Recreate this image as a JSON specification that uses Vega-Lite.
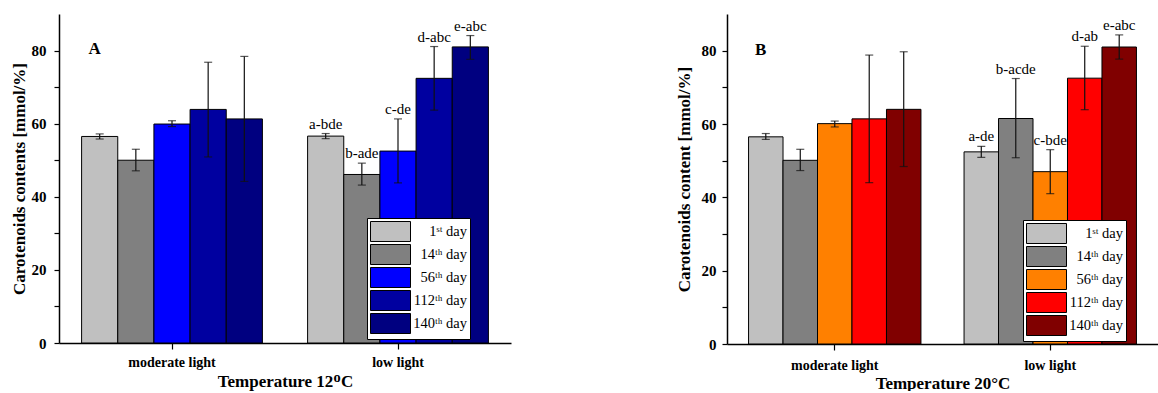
{
  "$schema": "https://vega.github.io/schema/vega-lite/v6.json",
  "padding": {"left": 10, "top": 14, "right": 0, "bottom": 0},
  "background": "white",
  "spacing": 216,
  "bounds": "flush",
  "config": {
    "font": "Liberation Serif",
    "view": {"stroke": null},
    "axis": {
      "domainColor": "#000000", "tickColor": "#000000", "labelColor": "#000000", "titleColor": "#000000",
      "grid": false, "labelFont": "Liberation Serif", "titleFont": "Liberation Serif",
      "labelFontWeight": "bold", "titleFontWeight": "bold", "domainWidth": 1.5, "tickWidth": 1.2
    },
    "legend": {
      "orient": "none", "title": null,
      "symbolType": "M-1,-1H3V1H-1Z", "symbolSize": 400,
      "symbolStrokeColor": "#000000", "symbolStrokeWidth": 1, "symbolOpacity": 1,
      "labelFont": "Liberation Serif", "labelFontSize": 14.5, "labelColor": "#000000",
      "labelAlign": "right", "labelOffset": 76,
      "strokeColor": "#000000", "fillColor": "white", "padding": 3, "rowPadding": -5
    },
    "text": {"font": "Liberation Serif", "color": "#000000"}
  },
  "datasets": {
    "a": [
      {"light": "moderate light", "day": "1st day", "value": 56.5, "lo": 55.8, "hi": 57.2, "letter": ""},
      {"light": "moderate light", "day": "14th day", "value": 50.0, "lo": 47.1, "hi": 53.0, "letter": ""},
      {"light": "moderate light", "day": "56th day", "value": 59.9, "lo": 59.2, "hi": 60.8, "letter": ""},
      {"light": "moderate light", "day": "112th day", "value": 63.9, "lo": 50.9, "hi": 76.8, "letter": ""},
      {"light": "moderate light", "day": "140th day", "value": 61.3, "lo": 44.2, "hi": 78.4, "letter": ""},
      {"light": "low light", "day": "1st day", "value": 56.6, "lo": 55.9, "hi": 57.3, "letter": "a-bde"},
      {"light": "low light", "day": "14th day", "value": 46.1, "lo": 43.2, "hi": 49.2, "letter": "b-ade"},
      {"light": "low light", "day": "56th day", "value": 52.5, "lo": 43.8, "hi": 61.3, "letter": "c-de"},
      {"light": "low light", "day": "112th day", "value": 72.4, "lo": 63.7, "hi": 81.1, "letter": "d-abc"},
      {"light": "low light", "day": "140th day", "value": 81.0, "lo": 77.6, "hi": 84.1, "letter": "e-abc"}
    ],
    "b": [
      {"light": "moderate light", "day": "1st day", "value": 56.5, "lo": 55.8, "hi": 57.4, "letter": ""},
      {"light": "moderate light", "day": "14th day", "value": 50.1, "lo": 47.3, "hi": 53.1, "letter": ""},
      {"light": "moderate light", "day": "56th day", "value": 60.1, "lo": 59.2, "hi": 60.8, "letter": ""},
      {"light": "moderate light", "day": "112th day", "value": 61.4, "lo": 44.0, "hi": 78.8, "letter": ""},
      {"light": "moderate light", "day": "140th day", "value": 64.0, "lo": 48.4, "hi": 79.7, "letter": ""},
      {"light": "low light", "day": "1st day", "value": 52.4, "lo": 50.9, "hi": 53.9, "letter": "a-de"},
      {"light": "low light", "day": "14th day", "value": 61.5, "lo": 50.8, "hi": 72.4, "letter": "b-acde"},
      {"light": "low light", "day": "56th day", "value": 47.0, "lo": 41.0, "hi": 53.0, "letter": "c-bde"},
      {"light": "low light", "day": "112th day", "value": 72.5, "lo": 63.9, "hi": 81.2, "letter": "d-ab"},
      {"light": "low light", "day": "140th day", "value": 81.0, "lo": 77.7, "hi": 84.3, "letter": "e-abc"}
    ],
    "tagA": [{"light": "moderate light", "day": "1st day", "v": 80.3, "t": "A"}],
    "tagB": [{"light": "moderate light", "day": "1st day", "v": 80.3, "t": "B"}]
  },
  "hconcat": [
    {
      "width": 452, "height": 329,
      "data": {"name": "a"},
      "encoding": {
        "x": {"field": "light", "type": "nominal", "sort": ["moderate light", "low light"],
              "scale": {"paddingInner": 0.2, "paddingOuter": 0.1},
              "title": "Temperature 12ᴼC",
              "axis": {"labelAngle": 0, "tickSize": 6, "labelFontSize": 14, "titleFontSize": 17, "labelPadding": 6, "titlePadding": 4}},
        "xOffset": {"field": "day", "type": "nominal", "sort": ["1st day", "14th day", "56th day", "112th day", "140th day"],
                    "scale": {"paddingInner": 0, "paddingOuter": 0}}
      },
      "layer": [
        {
          "mark": {"type": "bar", "stroke": "#000000", "strokeWidth": 1},
          "encoding": {
            "y": {"field": "value", "type": "quantitative", "scale": {"domain": [0, 90], "nice": false},
                  "title": "Carotenoids contents [mmol/%]",
                  "axis": {"values": [0, 10, 20, 30, 40, 50, 60, 70, 80], "labelExpr": "datum.value % 20 == 0 ? datum.label : ''",
                           "tickSize": 5, "labelFontSize": 15, "titleFontSize": 17, "labelPadding": 8, "titlePadding": 3}},
            "fill": {"field": "day", "type": "nominal",
                     "scale": {"domain": ["1st day", "14th day", "56th day", "112th day", "140th day"],
                               "range": ["#C0C0C0", "#808080", "#0000FF", "#0000A0", "#000080"]},
                     "legend": {"legendX": 308, "legendY": 204,
                                "labelExpr": "datum.label == '1st day' ? '1ˢᵗ day' : datum.label == '14th day' ? '14ᵗʰ day' : datum.label == '56th day' ? '56ᵗʰ day' : datum.label == '112th day' ? '112ᵗʰ day' : '140ᵗʰ day'"}}
          }
        },
        {
          "mark": {"type": "rule", "color": "#111111", "strokeWidth": 1.2},
          "encoding": {"y": {"field": "lo", "type": "quantitative", "title": "Carotenoids contents [mmol/%]"}, "y2": {"field": "hi"}}
        },
        {
          "mark": {"type": "tick", "color": "#111111", "size": 8, "thickness": 1.2},
          "encoding": {"y": {"field": "lo", "type": "quantitative", "title": "Carotenoids contents [mmol/%]"}}
        },
        {
          "mark": {"type": "tick", "color": "#111111", "size": 8, "thickness": 1.2},
          "encoding": {"y": {"field": "hi", "type": "quantitative", "title": "Carotenoids contents [mmol/%]"}}
        },
        {
          "mark": {"type": "text", "fontSize": 15, "baseline": "alphabetic", "dy": -5},
          "encoding": {"y": {"field": "hi", "type": "quantitative", "title": "Carotenoids contents [mmol/%]"}, "text": {"field": "letter"}}
        },
        {
          "data": {"name": "tagA"},
          "mark": {"type": "text", "fontSize": 17, "fontWeight": "bold", "baseline": "middle", "dx": -5},
          "encoding": {"y": {"field": "v", "type": "quantitative", "title": "Carotenoids contents [mmol/%]"}, "text": {"field": "t"}}
        }
      ]
    },
    {
      "width": 431, "height": 330,
      "data": {"name": "b"},
      "encoding": {
        "x": {"field": "light", "type": "nominal", "sort": ["moderate light", "low light"],
              "scale": {"paddingInner": 0.2, "paddingOuter": 0.1},
              "title": "Temperature 20°C",
              "axis": {"labelAngle": 0, "tickSize": 6, "labelFontSize": 14, "titleFontSize": 17, "labelPadding": 8, "titlePadding": 3}},
        "xOffset": {"field": "day", "type": "nominal", "sort": ["1st day", "14th day", "56th day", "112th day", "140th day"],
                    "scale": {"paddingInner": 0, "paddingOuter": 0}}
      },
      "layer": [
        {
          "mark": {"type": "bar", "stroke": "#000000", "strokeWidth": 1},
          "encoding": {
            "y": {"field": "value", "type": "quantitative", "scale": {"domain": [0, 90], "nice": false},
                  "title": "Carotenoids content [mmol/%]",
                  "axis": {"values": [0, 10, 20, 30, 40, 50, 60, 70, 80], "labelExpr": "datum.value % 20 == 0 ? datum.label : ''",
                           "tickSize": 5, "labelFontSize": 15, "titleFontSize": 17, "labelPadding": 6, "titlePadding": 8}},
            "fill": {"field": "day", "type": "nominal",
                     "scale": {"domain": ["1st day", "14th day", "56th day", "112th day", "140th day"],
                               "range": ["#C0C0C0", "#808080", "#FF8000", "#FF0000", "#800000"]},
                     "legend": {"legendX": 296, "legendY": 206,
                                "labelExpr": "datum.label == '1st day' ? '1ˢᵗ day' : datum.label == '14th day' ? '14ᵗʰ day' : datum.label == '56th day' ? '56ᵗʰ day' : datum.label == '112th day' ? '112ᵗʰ day' : '140ᵗʰ day'"}}
          }
        },
        {
          "mark": {"type": "rule", "color": "#111111", "strokeWidth": 1.2},
          "encoding": {"y": {"field": "lo", "type": "quantitative", "title": "Carotenoids content [mmol/%]"}, "y2": {"field": "hi"}}
        },
        {
          "mark": {"type": "tick", "color": "#111111", "size": 8, "thickness": 1.2},
          "encoding": {"y": {"field": "lo", "type": "quantitative", "title": "Carotenoids content [mmol/%]"}}
        },
        {
          "mark": {"type": "tick", "color": "#111111", "size": 8, "thickness": 1.2},
          "encoding": {"y": {"field": "hi", "type": "quantitative", "title": "Carotenoids content [mmol/%]"}}
        },
        {
          "mark": {"type": "text", "fontSize": 15, "baseline": "alphabetic", "dy": -5},
          "encoding": {"y": {"field": "hi", "type": "quantitative", "title": "Carotenoids content [mmol/%]"}, "text": {"field": "letter"}}
        },
        {
          "data": {"name": "tagB"},
          "mark": {"type": "text", "fontSize": 17, "fontWeight": "bold", "baseline": "middle", "dx": -5},
          "encoding": {"y": {"field": "v", "type": "quantitative", "title": "Carotenoids content [mmol/%]"}, "text": {"field": "t"}}
        }
      ]
    }
  ],
  "resolve": {"scale": {"fill": "independent", "y": "independent", "x": "independent", "xOffset": "independent"}}
}
